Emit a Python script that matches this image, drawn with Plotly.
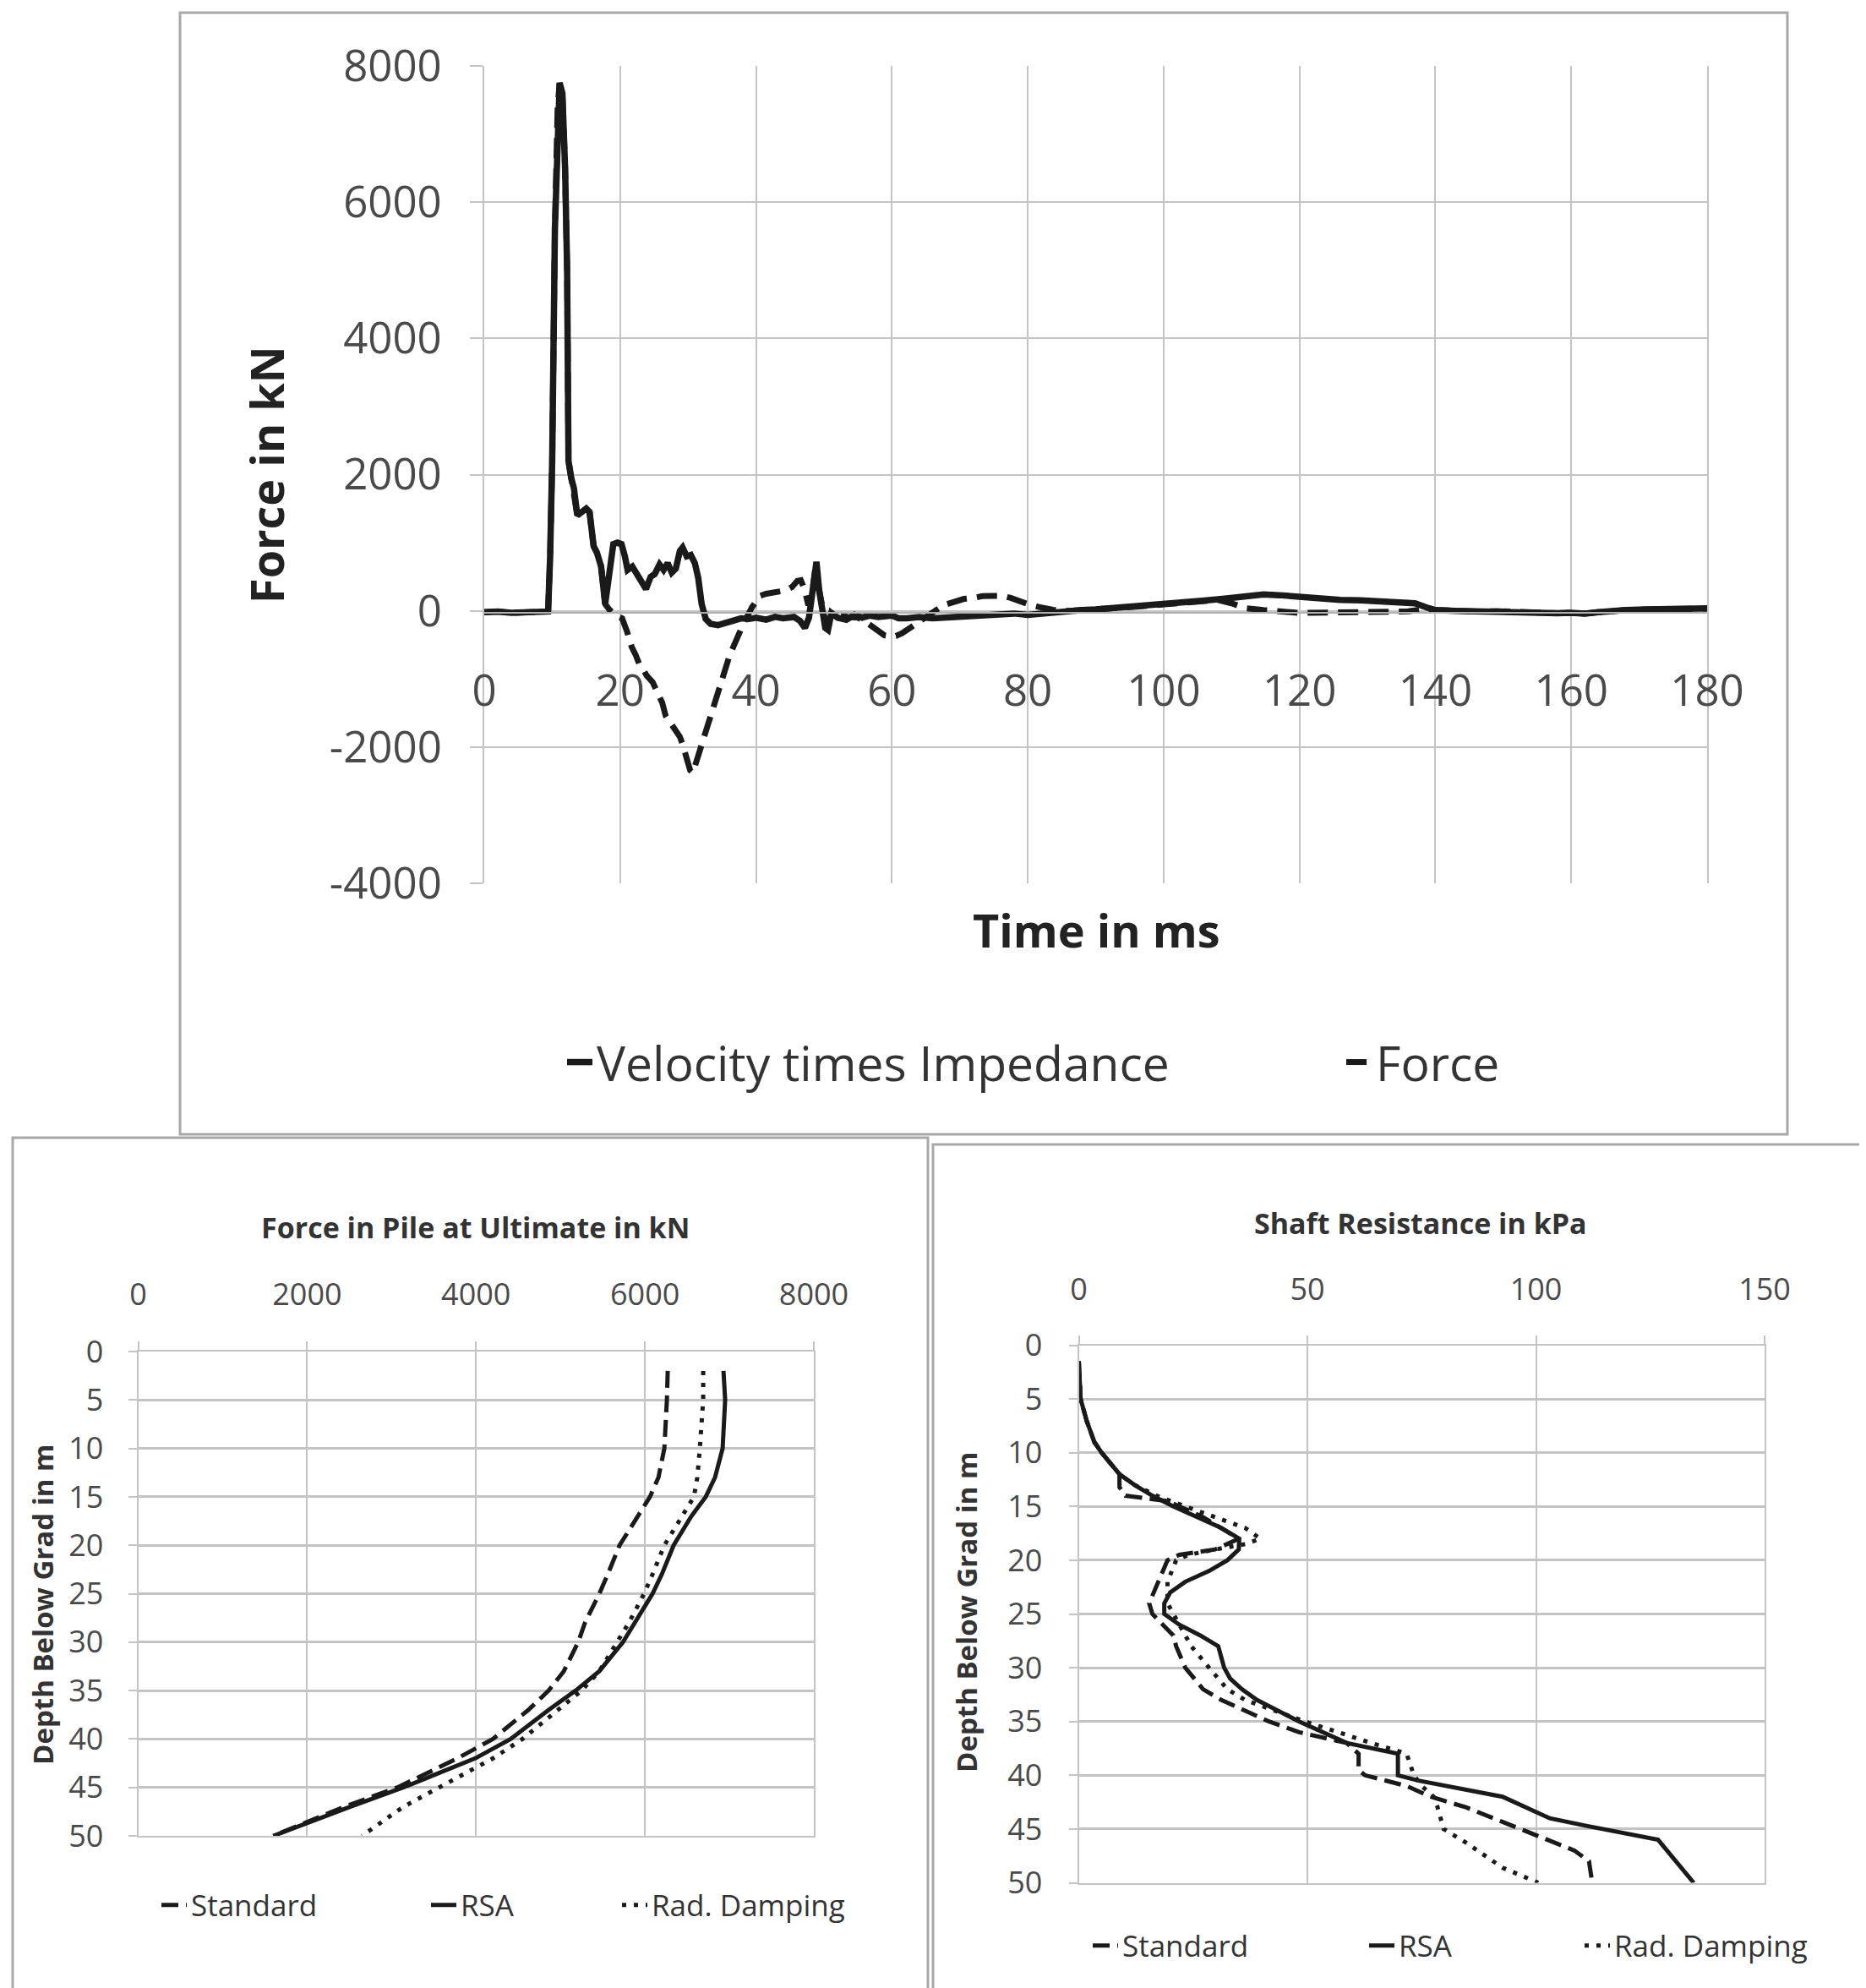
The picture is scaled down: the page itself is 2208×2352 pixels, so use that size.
import plotly.graph_objects as go

W, H = 2208, 2352
OFF = 8  # browser page margin compensation

# ---------------- Top chart: PDA signals ----------------
time_vi = [0, 2, 4, 6, 8, 9.4, 9.7, 10.0, 10.4, 10.8, 11.1, 11.5, 11.9, 12.2, 12.4, 12.8, 13.2, 13.7,
           14.3, 15.0, 15.5, 16.1, 16.6, 17.2, 17.8, 18.4, 19.0, 19.6, 20.2, 20.7, 21.1, 21.8,
           22.5, 23.2, 23.8, 24.5, 25.1, 25.8, 26.4, 27.0, 27.6, 28.2, 28.8, 29.2, 29.8, 30.4,
           31.0, 31.5, 32.0, 32.6, 33.3, 34.4, 35.5, 36.7, 37.8, 39.0, 40.0, 41.5, 42.8, 44.0,
           45.6, 46.5, 47.2, 47.8, 48.4, 48.9, 49.3, 49.7, 50.2, 50.6, 51.1, 52.0, 53.3, 54.5,
           55.6, 56.7, 58.0, 60.0, 61.0, 62.2, 64.0, 66.0, 68.0, 70.0, 72.0, 74.0, 76.0, 78.0,
           80.0, 82.0, 84.0, 86.0, 88.0, 90.0, 93.0, 96.0, 100.0, 103.0, 106.0, 109.0, 112.0,
           114.7, 117.0, 120.0, 123.0, 126.0, 129.0, 132.0, 135.0, 137.0, 139.0, 140.0, 143.0,
           146.0, 149.0, 152.0, 155.0, 158.0, 160.0, 162.0, 164.0, 166.0, 168.0, 171.0, 174.0,
           177.0, 180.0]
vel_imp = [-20, -10, -30, -20, -15, -10, 800, 2200, 5600, 7400, 7750, 7600, 6500, 5000, 2200, 1950, 1800,
           1400, 1450, 1500, 1450, 950, 850, 650, 100, 600, 980, 1000, 980, 800, 600, 650,
           520, 400, 320, 500, 540, 680, 600, 700, 560, 620, 880, 930, 800, 820,
           700, 480, 100, -120, -190, -210, -170, -150, -110, -120, -100, -130, -90, -110,
           -90, -150, -250, -100, 400, 720, 300, 50, -250, -280, -30, -100, -130, -60,
           -100, -70, -90, -70, -110, -110, -90, -110, -100, -70, -60, -50, -60, -40,
           -60, -40, -10, 0, 10, 20, 40, 60, 95, 120, 150, 180, 220,
           240, 230, 200, 170, 160, 155, 140, 120, 110, 40, 10, 0,
           -10, -5, -20, -25, -35, -30, -40, -20, 0, 10, 20, 20,
           30, 35]

time_f = [0, 2, 4, 6, 8, 9.4, 9.7, 10.0, 10.4, 10.8, 11.1, 11.5, 11.9, 12.2, 12.4, 12.8, 13.2, 13.7,
          14.3, 15.0, 15.5, 16.1, 16.6, 17.2, 17.8, 18.4, 19.4, 20.3, 21.0, 21.7, 22.3, 22.8,
          23.5, 23.9, 24.8, 25.6, 26.2, 26.7, 27.5, 28.3, 28.8, 29.2, 29.8, 30.3, 30.7, 31.1,
          31.7, 32.2, 33.0, 33.9, 34.5, 35.0, 35.6, 36.1, 36.7, 37.2, 38.1, 39.4, 40.0, 40.6,
          41.5, 42.2, 43.3, 44.4, 45.3, 46.1, 46.6, 47.2, 47.7, 48.2, 48.7, 49.2, 49.7, 50.3,
          51.0, 52.0, 53.5, 55.0, 56.0, 56.7, 57.8, 58.9, 60.0, 60.6, 61.5, 62.2, 63.5, 65.0,
          66.5, 67.8, 69.0, 70.6, 72.0, 73.3, 75.0, 76.1, 77.5, 78.6, 80.0, 81.5, 83.7, 86.0,
          88.0, 90.0, 93.0, 96.0, 100.0, 103.0, 106.0, 108.0, 110.0, 112.0, 114.7, 117.0,
          120.0, 125.0, 130.0, 136.0, 138.0, 140.0, 143.0, 146.0, 149.0, 152.0, 155.0, 158.0,
          160.0, 162.0, 164.0, 166.0, 168.0, 171.0, 174.0, 177.0, 180.0]
force = [-20, -10, -30, -20, -15, -10, 800, 2200, 5600, 7400, 7750, 7600, 6500, 5000, 2200, 1950, 1800,
         1400, 1450, 1500, 1450, 950, 850, 650, 100, 20, -70, -110, -300, -530, -650, -780,
         -880, -950, -1050, -1250, -1350, -1540, -1650, -1790, -1850, -1960, -2150, -2340, -2380, -2250,
         -2100, -1950, -1650, -1410, -1200, -1030, -850, -660, -520, -400, -200, 50, 150, 220,
         250, 260, 280, 300, 350, 440, 450, 300, 80, 200, 600, 350, 80, -200,
         -80, -60, -90, -100, -150, -200, -290, -360, -380, -370, -330, -280, -180, -80,
         10, 90, 130, 175, 190, 215, 220, 220, 190, 140, 100, 60, 15, 0,
         10, 20, 40, 60, 95, 120, 150, 160, 110, 40, 12, -10,
         -30, -25, -20, -8, 20, 10, 0, -10, -5, -20, -25, -35,
         -30, -40, -20, 0, 10, 20, 20, 30, 35]

top_x_ticks = [0, 20, 40, 60, 80, 100, 120, 140, 160, 180]
top_y_ticks = [-4000, -2000, 0, 2000, 4000, 6000, 8000]
top_y_ticktext = ["-4000", "-2000", "0", "2000", "4000", "6000", "8000"]

# ---------------- Bottom-left: force in pile ----------------
depth_force = [2, 5, 10, 13, 15, 17, 20, 23, 25, 28, 30, 33, 35, 37, 40, 42, 44, 45, 47, 50]
force_standard = [6270, 6260, 6230, 6160, 6060, 5920, 5700, 5560, 5460, 5290, 5210, 5040, 4860,
                  4620, 4200, 3780, 3290, 3070, 2440, 1600]
force_rsa = [6930, 6950, 6920, 6830, 6720, 6550, 6340, 6200, 6090, 5880, 5740, 5460, 5180,
             4860, 4410, 3990, 3430, 3140, 2510, 1600]
force_rad = [6690, 6690, 6650, 6620, 6580, 6440, 6230, 6090, 5990, 5810, 5670, 5460, 5250,
             4970, 4550, 4200, 3780, 3570, 3140, 2650]
bl_x_ticks = [0, 2000, 4000, 6000, 8000]
depth_ticks = [0, 5, 10, 15, 20, 25, 30, 35, 40, 45, 50]

# ---------------- Bottom-right: shaft resistance ----------------
depth_std = [1.5, 5, 7, 9, 10, 12, 13.2, 14, 14.5, 16, 18, 19, 19.5, 20, 22, 24, 25, 27, 28, 30,
             32, 33, 35, 36, 37, 38, 39.5, 40, 41, 42, 43, 45, 47, 48, 50]
shaft_std = [0, 0.4, 1.7, 3.4, 5, 8.9, 8.9, 10.2, 19.4, 27.2, 35, 29.8, 22, 19.4, 17.4, 15.4, 16.1,
             20.7, 21.3, 23.3, 27.2, 31.2, 41.6, 48.2, 58.6, 61.2, 61.2, 62.6, 71.7, 77, 84.8, 96.6,
             108.4, 111.6, 112.3]
depth_rsa = [1.5, 5, 7, 9, 10, 12, 13, 14, 15, 16, 17, 18, 19, 20, 21, 22, 23, 24, 25, 26, 27, 28,
             29, 30, 31, 32, 33, 35, 37, 38, 40, 40.5, 42, 44, 44.7, 46, 50]
shaft_rsa = [0, 0.4, 1.7, 3.4, 5, 8.9, 12.2, 16.1, 20.7, 25.9, 31.2, 35.1, 35, 32.5, 28.5, 23.3,
             20, 18.7, 18.7, 22, 26.6, 30.5, 31.2, 31.8, 33.1, 35.7, 39, 48.2, 58.6, 69.8, 69.8,
             74.3, 92.7, 103, 111, 126.7, 134.5]
depth_rad = [1.5, 5, 7, 9, 10, 12, 13, 14, 15, 16, 17, 18, 18.5, 19, 19.5, 20, 22, 24, 25, 26, 27,
             28, 30, 32, 33, 35, 37, 38, 40, 41, 42, 43, 45, 46.3, 48.6, 50]
shaft_rad = [0, 0.4, 1.7, 3.4, 5, 8.9, 12.2, 17, 23.3, 29.8, 36.4, 39.7, 36.4, 29.8, 24, 21.3,
             19.4, 19.4, 20.7, 22, 23.3, 24.6, 28.5, 32.5, 36.4, 49.5, 64, 71.7, 73.3, 75, 77.6,
             78.5, 79.8, 84.8, 92.7, 100.5]
br_x_ticks = [0, 50, 100, 150]

# ---------------- styling ----------------
FONT = "Open Sans"
INK = "#1a1a1a"
TXT = "#4a4a4a"
GRID = "#c4c4c4"

fig = go.Figure()

fig.add_trace(go.Scatter(x=time_f, y=force, mode="lines", name="Force",
                         line=dict(color=INK, width=7, dash="24px,12px"),
                         xaxis="x", yaxis="y", legend="legend2"))
fig.add_trace(go.Scatter(x=time_vi, y=vel_imp, mode="lines", name="Velocity times Impedance",
                         line=dict(color=INK, width=7.5),
                         xaxis="x", yaxis="y", legend="legend"))

fig.add_trace(go.Scatter(x=force_standard, y=depth_force, mode="lines", name="Standard",
                         line=dict(color=INK, width=5, dash="20px,9px"),
                         xaxis="x2", yaxis="y2", legend="legend3"))
fig.add_trace(go.Scatter(x=force_rsa, y=depth_force, mode="lines", name="RSA",
                         line=dict(color=INK, width=5),
                         xaxis="x2", yaxis="y2", legend="legend4"))
fig.add_trace(go.Scatter(x=force_rad, y=depth_force, mode="lines", name="Rad. Damping",
                         line=dict(color=INK, width=5, dash="5px,9px"),
                         xaxis="x2", yaxis="y2", legend="legend5"))

fig.add_trace(go.Scatter(x=shaft_std, y=depth_std, mode="lines", name="Standard",
                         line=dict(color=INK, width=5, dash="20px,9px"),
                         xaxis="x3", yaxis="y3", legend="legend6"))
fig.add_trace(go.Scatter(x=shaft_rsa, y=depth_rsa, mode="lines", name="RSA",
                         line=dict(color=INK, width=5),
                         xaxis="x3", yaxis="y3", legend="legend7"))
fig.add_trace(go.Scatter(x=shaft_rad, y=depth_rad, mode="lines", name="Rad. Damping",
                         line=dict(color=INK, width=5, dash="5px,9px"),
                         xaxis="x3", yaxis="y3", legend="legend8"))


def px(x):
    return (x - OFF) / W


def py(y):
    return 1 - (y - OFF) / H


# domains
top_x = [px(573), px(2020)]
top_y = [py(1045), py(78)]
bl_x = [px(163.5), px(963)]
bl_y = [py(2172), py(1599)]
br_x = [px(1276.5), px(2088)]
br_y = [py(2227.5), py(1591.5)]

layout = dict(
    width=W, height=H, autosize=False, showlegend=True,
    margin=dict(l=0, r=0, t=0, b=0, pad=0, autoexpand=False),
    paper_bgcolor="white", plot_bgcolor="white",
    font=dict(family=FONT, color=TXT),
    xaxis=dict(domain=top_x, range=[0, 180], tickvals=top_x_ticks, anchor="free",
               position=py(724.5), showgrid=True, gridcolor=GRID, gridwidth=2,
               showline=True, linecolor="#b0b0b0", linewidth=2, zeroline=False,
               ticks="", tickfont=dict(size=51, color=TXT), ticklabelstandoff=48,
               automargin=False, fixedrange=True),
    yaxis=dict(domain=top_y, range=[-4000, 8000], tickvals=top_y_ticks,
               ticktext=top_y_ticktext, anchor="x", showgrid=True, gridcolor=GRID,
               gridwidth=2, zeroline=False, showline=True, linecolor=GRID, linewidth=2,
               mirror=True, ticks="outside", ticklen=15, tickcolor=GRID, tickwidth=2,
               tickfont=dict(size=51, color=TXT), ticklabelstandoff=23,
               automargin=False, fixedrange=True),
    xaxis2=dict(domain=bl_x, range=[0, 8000], tickvals=bl_x_ticks, side="top", anchor="y2",
                showgrid=True, gridcolor=GRID, gridwidth=1.5, zeroline=False,
                showline=True, mirror=True, linecolor=GRID, linewidth=1.5,
                ticks="outside", ticklen=10, tickcolor=GRID, tickwidth=1.5,
                tickfont=dict(size=36, color=TXT), ticklabelstandoff=29,
                automargin=False, fixedrange=True),
    yaxis2=dict(domain=bl_y, range=[50, 0], tickvals=depth_ticks, anchor="x2",
                showgrid=True, gridcolor=GRID, gridwidth=3, zeroline=False,
                showline=True, mirror=True, linecolor=GRID, linewidth=2,
                ticks="outside", ticklen=10, tickcolor=GRID, tickwidth=2,
                tickfont=dict(size=36, color=TXT), ticklabelstandoff=22,
                automargin=False, fixedrange=True),
    xaxis3=dict(domain=br_x, range=[0, 150], tickvals=br_x_ticks, side="top", anchor="y3",
                showgrid=True, gridcolor=GRID, gridwidth=1.5, zeroline=False,
                showline=True, mirror=True, linecolor=GRID, linewidth=1.5,
                ticks="outside", ticklen=10, tickcolor=GRID, tickwidth=1.5,
                tickfont=dict(size=36, color=TXT), ticklabelstandoff=27,
                automargin=False, fixedrange=True),
    yaxis3=dict(domain=br_y, range=[50, 0], tickvals=depth_ticks, anchor="x3",
                showgrid=True, gridcolor=GRID, gridwidth=3, zeroline=False,
                showline=True, mirror=True, linecolor=GRID, linewidth=2,
                ticks="outside", ticklen=10, tickcolor=GRID, tickwidth=2,
                tickfont=dict(size=36, color=TXT), ticklabelstandoff=24,
                automargin=False, fixedrange=True),
)


def leg(text_x, yc, size):
    return dict(x=px(text_x - 44), y=py(yc), xanchor="left", yanchor="middle",
                orientation="h", bgcolor="rgba(0,0,0,0)", borderwidth=0, visible=True,
                font=dict(size=size, color="#333333", family=FONT))


layout["legend"] = leg(710, 1257, 57)
layout["legend2"] = leg(1632, 1257, 57)
layout["legend3"] = leg(230, 2254, 35)
layout["legend4"] = leg(549, 2254, 35)
layout["legend5"] = leg(775, 2254, 35)
layout["legend6"] = leg(1332, 2302, 35)
layout["legend7"] = leg(1659, 2302, 35)
layout["legend8"] = leg(1914, 2302, 35)

fig.update_layout(**layout)

ann_common = dict(xref="paper", yref="paper", showarrow=False, xanchor="center", yanchor="middle")
fig.add_annotation(text="<b>Force in kN</b>", x=px(315), y=py(562), textangle=-90,
                   font=dict(size=54, color="#222222"), **ann_common)
fig.add_annotation(text="<b>Time in ms</b>", x=px(1297), y=py(1100),
                   font=dict(size=54, color="#222222"), **ann_common)
fig.add_annotation(text="<b>Force in Pile at Ultimate in kN</b>", x=px(562), y=py(1452),
                   font=dict(size=34, color="#333333"), **ann_common)
fig.add_annotation(text="<b>Depth Below Grad in m</b>", x=px(50), y=py(1899), textangle=-90,
                   font=dict(size=33, color="#333333"), **ann_common)
fig.add_annotation(text="<b>Shaft Resistance in kPa</b>", x=px(1681), y=py(1447),
                   font=dict(size=34, color="#333333"), **ann_common)
fig.add_annotation(text="<b>Depth Below Grad in m</b>", x=px(1143), y=py(1908), textangle=-90,
                   font=dict(size=33, color="#333333"), **ann_common)

# chart frames
frame = dict(type="rect", xref="paper", yref="paper", line=dict(color="#a8a8a8", width=3),
             fillcolor="rgba(0,0,0,0)", layer="below")
fig.add_shape(x0=px(213), x1=px(2115), y0=py(1342), y1=py(15), **frame)
fig.add_shape(x0=px(15), x1=px(1098), y0=py(2380), y1=py(1346), **frame)
fig.add_shape(x0=px(1104), x1=px(2230), y0=py(2380), y1=py(1354), **frame)

fig.write_html("out.html")
